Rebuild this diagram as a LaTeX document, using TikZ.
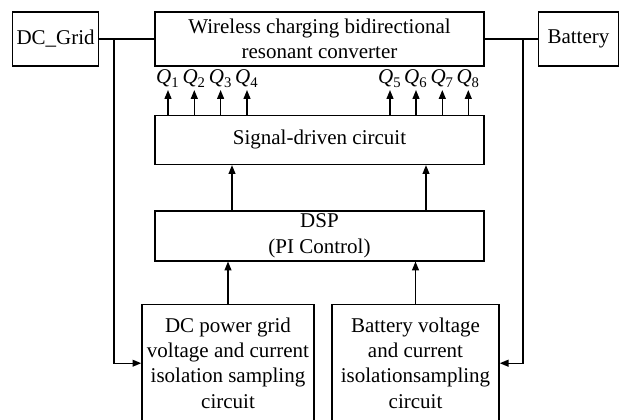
\documentclass[tikz,border=0pt]{standalone}
\usepackage{fontspec}
\setmainfont{Liberation Serif}
\usetikzlibrary{arrows.meta,calc,positioning}

\newcommand{\qsw}[1]{\textit{Q}\textsubscript{#1}}

\begin{document}
\begin{tikzpicture}[
    x=0.5pt, y=-0.5pt,
    font=\fontsize{10.5}{12.6}\selectfont,
    line width=0.7pt,
    blk/.style={draw, align=center, inner sep=1pt, minimum height=27pt},
    wide/.style={blk, minimum width=164.5pt},
    smp/.style={draw, align=center, inner sep=1pt, minimum height=58.5pt, anchor=north},
    arr/.style={-{Triangle[length=4.4pt,width=3.4pt]}},
    qlab/.style={anchor=south, inner sep=1pt}
]
\clip (0,0) rectangle (621,419);

\node[wide] (conv) at (319.5,39) {Wireless charging bidirectional\\resonant converter};
\node[blk, minimum width=43pt, left=27.5pt of conv] (grid) {DC\_Grid};
\node[blk, minimum width=40pt, right=26.5pt of conv] (bat) {Battery};
\node[wide, minimum height=24.5pt, below=24pt of conv] (drv) {Signal-driven circuit};
\node[wide, minimum height=25pt, below=22.5pt of drv] (dsp) {DSP\\(PI Control)};
\node[smp, minimum width=86pt] (gsmp) at (228,304)
    {DC power grid\\voltage and current\\isolation sampling\\circuit};
\node[smp, minimum width=83.5pt] (bsmp) at (415.5,304)
    {Battery voltage\\and current\\isolationsampling\\circuit};

% switch signals
\foreach \i/\x in {1/168,2/194.3,3/220.6,4/247,5/390,6/416,7/442.3,8/468.3}{
    \coordinate (q\i) at (\x,90);
    \draw[arr] (drv.north -| q\i) -- (q\i);
    \node[qlab] (ql\i) at (q\i) {\qsw{\i}};
}

% power side and sampling
\coordinate (gtap) at ($(grid.east)!0.27!(conv.west)$);
\coordinate (btap) at ($(conv.east)!0.72!(bat.west)$);
\draw (grid) -- (conv);
\draw (conv) -- (bat);
\draw[arr] (gtap) |- (gsmp.west);
\draw[arr] (btap) |- (bsmp.east);

\draw[arr] (gsmp.north) -- (gsmp.north |- dsp.south);
\draw[arr] (bsmp.north) -- (bsmp.north |- dsp.south);
\draw[arr] ([xshift=-43.75pt]dsp.north) -- ([xshift=-43.75pt]drv.south);
\draw[arr] ([xshift=53.25pt]dsp.north) -- ([xshift=53.25pt]drv.south);

\end{tikzpicture}
\end{document}
